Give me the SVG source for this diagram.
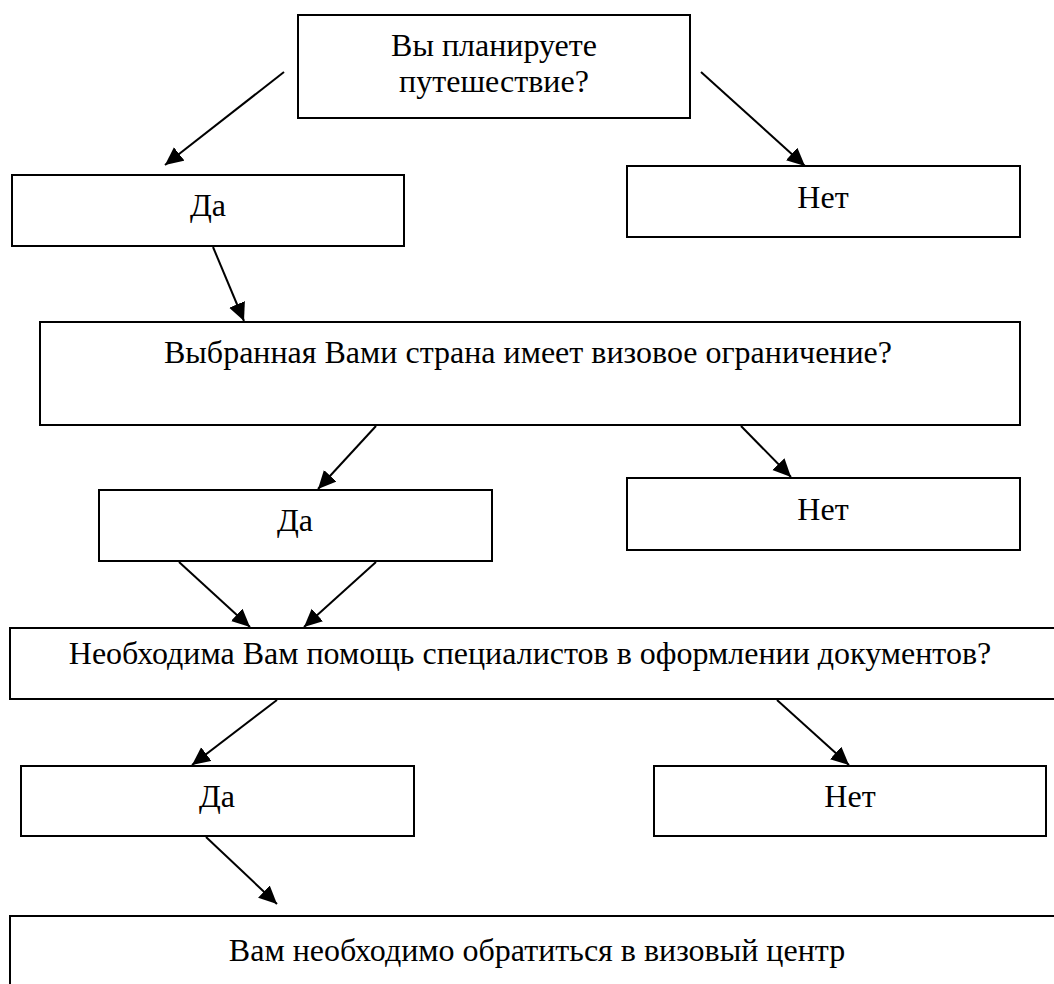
<svg xmlns="http://www.w3.org/2000/svg" width="1054" height="984" viewBox="0 0 1054 984">
<style>
.box{fill:#fff;stroke:#000;stroke-width:2}
.t{font-family:"Liberation Serif","Times New Roman",serif;font-size:32px;fill:#000;text-anchor:middle}
.c line{stroke:#000;stroke-width:2;marker-end:url(#ah)}
</style>
<defs>
<marker id="ah" markerUnits="userSpaceOnUse" markerWidth="20" markerHeight="18" refX="18" refY="8.5" orient="auto" viewBox="0 0 20 18">
<path d="M0,0 L18,8.5 L0,17 z" fill="#000"/>
</marker>
</defs>
<rect width="1054" height="984" fill="#fff"/>
<g id="n1"><rect class="box" x="298" y="15" width="392" height="103"/><text class="t" x="494" y="56">Вы планируете</text><text class="t" x="494" y="92">путешествие?</text></g>
<g id="n2"><rect class="box" x="12" y="175" width="392" height="71"/><text class="t" x="208" y="216">Да</text></g>
<g id="n3"><rect class="box" x="627" y="166" width="393" height="71"/><text class="t" x="823" y="208">Нет</text></g>
<g id="n4"><rect class="box" x="40" y="322" width="980" height="103"/><text class="t" x="528" y="363">Выбранная Вами страна имеет визовое ограничение?</text></g>
<g id="n5"><rect class="box" x="99" y="490" width="393" height="71"/><text class="t" x="295" y="531">Да</text></g>
<g id="n6"><rect class="box" x="627" y="478" width="393" height="72"/><text class="t" x="823" y="520">Нет</text></g>
<g id="n7"><rect class="box" x="10" y="628" width="1047" height="71"/><text class="t" x="530" y="664">Необходима Вам помощь специалистов в оформлении документов?</text></g>
<g id="n8"><rect class="box" x="21" y="766" width="393" height="70"/><text class="t" x="217" y="807">Да</text></g>
<g id="n9"><rect class="box" x="654" y="766" width="392" height="70"/><text class="t" x="850" y="807">Нет</text></g>
<g id="n10"><rect class="box" x="10" y="916" width="1060" height="100"/><text class="t" x="537" y="961">Вам необходимо обратиться в визовый центр</text></g>
<g id="connectors" class="c">
<line x1="284" y1="72" x2="165" y2="165"/>
<line x1="701" y1="72" x2="805" y2="166"/>
<line x1="213" y1="247" x2="244" y2="321"/>
<line x1="376" y1="426" x2="318" y2="489"/>
<line x1="741" y1="426" x2="791" y2="477"/>
<line x1="179" y1="562" x2="250" y2="627"/>
<line x1="376" y1="562" x2="304" y2="627"/>
<line x1="277" y1="700" x2="192" y2="765"/>
<line x1="777" y1="700" x2="849" y2="765"/>
<line x1="206" y1="837" x2="277" y2="904"/>
</g>
</svg>
